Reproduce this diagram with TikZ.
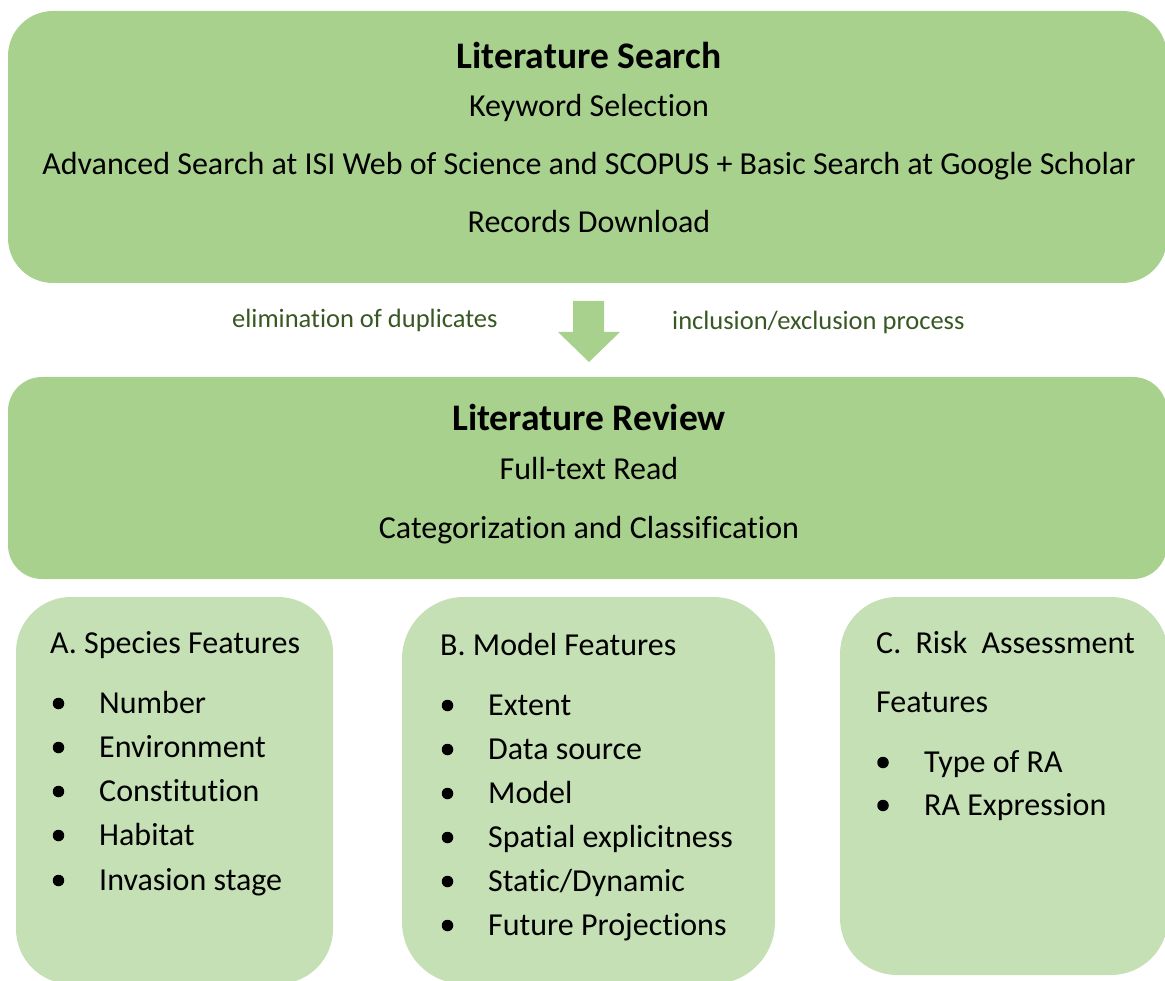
\documentclass[tikz,border=0pt]{standalone}
\usepackage{fontspec}
\setmainfont{Carlito}[Ligatures=NoCommon]
\definecolor{stagegreen}{HTML}{A9D18E}
\definecolor{facetgreen}{HTML}{C5E0B4}
\definecolor{notegreen}{HTML}{385723}
\newcommand{\bodysize}{\fontsize{32}{38}\selectfont}
\newcommand{\headsize}{\fontsize{37.5}{44}\selectfont\bfseries}
\newcommand{\notesize}{\fontsize{26.5}{32}\selectfont}
\begin{document}
\begin{tikzpicture}[x=1pt,y=-1pt,
  stagebox/.style={fill=stagegreen,draw=none,inner sep=0pt,rectangle},
  facetbox/.style={fill=facetgreen,draw=none,inner sep=0pt,rectangle},
  heading/.style={anchor=base,inner sep=0pt,font=\headsize},
  line/.style={anchor=base,inner sep=0pt,font=\bodysize},
  item/.style={anchor=base west,inner sep=0pt,font=\bodysize},
  note/.style={anchor=base west,inner sep=0pt,font=\notesize,text=notegreen},
  dot/.style={circle,fill=black,inner sep=0pt,minimum size=11.5pt}]
\useasboundingbox (0,0) rectangle (1165,981);

% stage panels
\node[stagebox,rounded corners=45pt,minimum width=1159pt,minimum height=272pt] (search) at (587.5,147) {};
\node[stagebox,rounded corners=34pt,minimum width=1159pt,minimum height=202pt] (review) at (587.5,478) {};

% facet panels
\node[facetbox,rounded corners=55pt,minimum width=317pt,minimum height=387pt] (species) at (174.5,790.5) {};
\node[facetbox,rounded corners=62pt,minimum width=373pt,minimum height=387pt] (model) at (588.5,790.5) {};
\node[facetbox,rounded corners=57pt,minimum width=328pt,minimum height=378pt] (risk) at (1004,786) {};

% block arrow between the two stages
\fill[stagegreen] (573,301) -- (604,301) -- (604,332) -- (620,332) -- (589,362)
  -- (558,332) -- (573,332) -- cycle;

% Literature Search
\node[heading] (searchtitle) at (589,69) {Literature Search};
\node[line] (keywords) at (589,117) {Keyword Selection};
\node[line] (advanced) at (589,175) {Advanced Search at ISI Web of Science and SCOPUS + Basic Search at Google Scholar};
\node[line] (records) at (589,233) {Records Download};

% flow notes
\node[note] (dups) at (232,328) {elimination of duplicates};
\node[note] (incl) at (672,330) {inclusion/exclusion process};

% Literature Review
\node[heading] (reviewtitle) at (589,431) {Literature Review};
\node[line] (fulltext) at (589,479) {Full-text Read};
\node[line] (classify) at (589,538) {Categorization and Classification};

% A. Species Features
\node[item] (atitle) at (50,653) {A. Species Features};
\foreach \t/\y [count=\i] in {Number/713,Environment/757,Constitution/801,Habitat/845,Invasion stage/890}{
  \node[dot] (adot\i) at (58.5,\y-9.5) {};
  \node[item] (aitem\i) at (99,\y) {\t};
}

% B. Model Features
\node[item] (btitle) at (440,655) {B. Model Features};
\foreach \t/\y [count=\i] in {Extent/715,Data source/759,Model/803,Spatial explicitness/847,{Static/Dynamic}/891,Future Projections/935}{
  \node[dot] (bdot\i) at (447.5,\y-9.5) {};
  \node[item] (bitem\i) at (488,\y) {\t};
}

% C. Risk Assessment Features
\node[item] (ctitle) at (876,653) {C.\hspace{7pt} Risk\hspace{7pt} Assessment};
\node[item] (ctitle2) at (876,712) {Features};
\foreach \t/\y [count=\i] in {Type of RA/772,RA Expression/815}{
  \node[dot] (cdot\i) at (883,\y-9.5) {};
  \node[item] (citem\i) at (924,\y) {\t};
}
\end{tikzpicture}
\end{document}
